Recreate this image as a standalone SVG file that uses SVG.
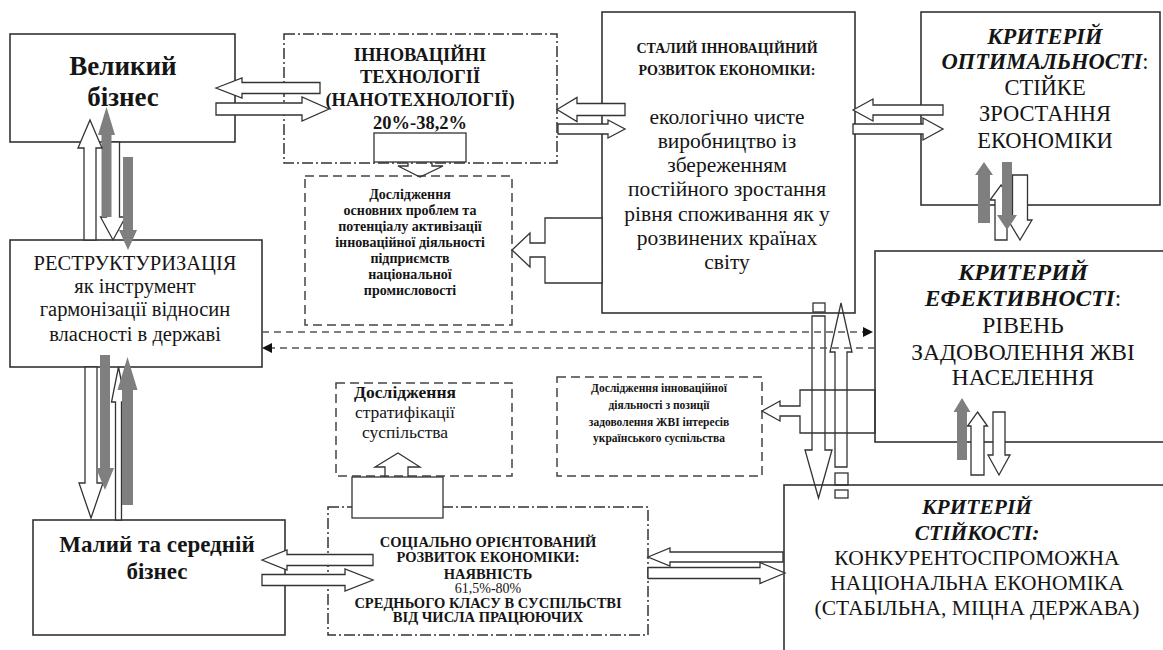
<svg xmlns="http://www.w3.org/2000/svg" width="1163" height="650" viewBox="0 0 1163 650">
<defs>
<style>
.bx{fill:#fff;stroke:#333;stroke-width:1.6}
.dd{fill:none;stroke:#333;stroke-width:1.5;stroke-dasharray:11,3,2,3}
.ds{fill:none;stroke:#444;stroke-width:1.5;stroke-dasharray:9,5}
.wa{fill:#fff;stroke:#333;stroke-width:1.3;stroke-linejoin:miter}
.na{fill:none;stroke:#333;stroke-width:1.3}
.ga{fill:#7f7f7f;stroke:none}
.dl{fill:none;stroke:#555;stroke-width:1.5;stroke-dasharray:7,5}
text{font-family:"Liberation Serif","Times New Roman",serif;fill:#151515;text-anchor:middle}
.b{font-weight:bold}
.bi{font-weight:bold;font-style:italic}
</style>
<marker id="tri" viewBox="0 0 10 10" refX="10" refY="5" markerWidth="13" markerHeight="10" markerUnits="userSpaceOnUse" orient="auto">
<path d="M0,0 L10,5 L0,10 z" fill="#111"/>
</marker>
</defs>

<g id="velykyi">
<rect class="bx" x="10" y="34" width="225" height="108"/>
<text class="b" font-size="27" x="123" y="75">Великий</text>
<text class="b" font-size="27" x="123" y="106">бізнес</text>
</g>

<g id="innov">
<rect class="dd" x="284" y="34" width="273" height="129"/>
<text class="b" font-size="18.5" x="420" y="61">ІННОВАЦІЙНІ</text>
<text class="b" font-size="18.5" x="420" y="83">ТЕХНОЛОГІЇ</text>
<text class="b" font-size="18.5" x="420" y="106">(НАНОТЕХНОЛОГІЇ)</text>
<text class="b" font-size="18.5" x="420" y="129">20%-38,2%</text>
</g>

<g id="doslid1">
<rect class="ds" x="305" y="176" width="207" height="149"/>
<text class="b" font-size="14" x="410" y="199">Дослідження</text>
<text class="b" font-size="14" x="410" y="215">основних проблем та</text>
<text class="b" font-size="14" x="410" y="231">потенціалу активізації</text>
<text class="b" font-size="14" x="410" y="247">інноваційної діяльності</text>
<text class="b" font-size="14" x="410" y="263">підприємств</text>
<text class="b" font-size="14" x="410" y="279">національної</text>
<text class="b" font-size="14" x="410" y="295">промисловості</text>
</g>

<g id="stalyi">
<rect class="bx" x="602" y="12" width="253" height="301"/>
<text class="b" font-size="14" x="727" y="53">СТАЛИЙ ІННОВАЦІЙНИЙ</text>
<text class="b" font-size="14" x="727" y="75">РОЗВИТОК ЕКОНОМІКИ:</text>
<text font-size="21.5" x="727" y="124">екологічно чисте</text>
<text font-size="21.5" x="727" y="148">виробництво із</text>
<text font-size="21.5" x="727" y="172">збереженням</text>
<text font-size="21.5" x="727" y="196">постійного зростання</text>
<text font-size="21.5" x="727" y="221">рівня споживання як у</text>
<text font-size="21.5" x="727" y="245">розвинених країнах</text>
<text font-size="21.5" x="727" y="269">світу</text>
</g>

<g id="optym">
<rect class="bx" x="921" y="12" width="239" height="193"/>
<text class="bi" font-size="22.5" x="1045" y="44">КРИТЕРІЙ</text>
<text font-size="22.5" x="1045" y="69"><tspan class="bi">ОПТИМАЛЬНОСТІ</tspan>:</text>
<text font-size="22.5" x="1045" y="95">СТІЙКЕ</text>
<text font-size="22.5" x="1045" y="121">ЗРОСТАННЯ</text>
<text font-size="22.5" x="1045" y="148">ЕКОНОМІКИ</text>
</g>

<g id="restr">
<rect class="bx" x="10" y="240" width="252" height="127"/>
<text font-size="20.5" x="135" y="270">РЕСТРУКТУРИЗАЦІЯ</text>
<text font-size="20.5" x="135" y="293">як інструмент</text>
<text font-size="20.5" x="135" y="316">гармонізації відносин</text>
<text font-size="20.5" x="135" y="341">власності в державі</text>
</g>

<g id="efekt">
<rect class="bx" x="875" y="251" width="300" height="191"/>
<text class="bi" font-size="23.5" x="1023" y="280">КРИТЕРИЙ</text>
<text font-size="23.5" x="1023" y="306"><tspan class="bi">ЕФЕКТИВНОСТІ</tspan>:</text>
<text font-size="23.5" x="1023" y="333">РІВЕНЬ</text>
<text font-size="23.5" x="1023" y="360">ЗАДОВОЛЕННЯ ЖВІ</text>
<text font-size="23.5" x="1023" y="385">НАСЕЛЕННЯ</text>
</g>

<g id="doslid2">
<rect class="ds" x="336" y="383" width="176" height="93"/>
<text class="b" font-size="17.5" x="405" y="398">Дослідження</text>
<text font-size="17.5" x="405" y="418">стратифікації</text>
<text font-size="17.5" x="405" y="438">суспільства</text>
</g>

<g id="doslid3">
<rect class="ds" x="557" y="377" width="205" height="99"/>
<text class="b" font-size="11.5" x="659" y="392">Дослідження інноваційної</text>
<text class="b" font-size="11.5" x="659" y="409">діяльності з позиції</text>
<text class="b" font-size="11.5" x="659" y="426">задоволення ЖВІ інтересів</text>
<text class="b" font-size="11.5" x="659" y="442">українського суспільства</text>
</g>

<g id="malyi">
<rect class="bx" x="33" y="520" width="252" height="115"/>
<text class="b" font-size="23" x="157" y="552">Малий та середній</text>
<text class="b" font-size="23" x="157" y="579">бізнес</text>
</g>

<g id="social">
<rect class="dd" x="328" y="507" width="320" height="128"/>
<text class="b" font-size="14.5" x="488" y="547">СОЦІАЛЬНО ОРІЄНТОВАНИЙ</text>
<text class="b" font-size="14.5" x="488" y="562">РОЗВИТОК ЕКОНОМІКИ:</text>
<text class="b" font-size="14.5" x="488" y="579">НАЯВНІСТЬ</text>
<text font-size="14" x="488" y="593" fill="#333">61,5%-80%</text>
<text class="b" font-size="14.5" x="488" y="608">СРЕДНЬОГО КЛАСУ В СУСПІЛЬСТВІ</text>
<text class="b" font-size="14.5" x="488" y="622">ВІД ЧИСЛА ПРАЦЮЮЧИХ</text>
</g>

<g id="stiik">
<rect class="bx" x="784" y="485" width="400" height="200"/>
<text class="bi" font-size="21.5" x="977" y="514">КРИТЕРІЙ</text>
<text class="bi" font-size="21.5" x="977" y="540">СТІЙКОСТІ:</text>
<text font-size="21.5" x="977" y="565">КОНКУРЕНТОСПРОМОЖНА</text>
<text font-size="21.5" x="977" y="590">НАЦІОНАЛЬНА ЕКОНОМІКА</text>
<text font-size="21.5" x="977" y="615">(СТАБІЛЬНА, МІЦНА ДЕРЖАВА)</text>
</g>

<g id="connectors">
<polygon class="wa" points="216,88 242,78 242,82.5 320,82.5 320,93.5 242,93.5 242,98"/>
<polygon class="wa" points="216,103 302,103 302,97 329,109 302,121 302,115 216,115"/>
<polygon class="wa" points="557,109.5 577,97.5 577,103.5 625,103.5 625,115.5 577,115.5 577,121.5"/>
<polygon class="wa" points="558,124 608,124 608,120 625,129 608,138 608,134 558,134"/>
<polygon class="wa" points="853,110 873,99 873,105 943,105 943,115 873,115 873,121"/>
<polygon class="wa" points="853,124 923,124 923,118 943,129 923,140 923,134 853,134"/>
<polygon class="wa" points="262,560 287,550 287,554.5 373,554.5 373,565.5 287,565.5 287,570"/>
<polygon class="wa" points="262,574.5 345,574.5 345,569 373,580 345,591 345,585.5 262,585.5"/>
<polygon class="wa" points="648,557 670,548 670,552 783,552 783,562 670,562 670,566"/>
<polygon class="wa" points="648,567.5 760,567.5 760,562.5 785,573 760,583.5 760,578.5 648,578.5"/>

<rect class="wa" x="374" y="133" width="92" height="29"/>
<polyline class="na" points="408,163 408,166 398,166 420,177 443,166 432,166 432,163"/>

<rect class="wa" x="352" y="477" width="91" height="41"/>
<polyline class="na" points="385,477 385,467 375,467 398,453 420,467 408,467 408,477"/>

<polygon class="wa" points="602,218 545,218 545,243 530,243 530,233 512,250 530,267 530,257 545,257 545,283 602,283"/>
<polygon class="na" points="875,390 800,390 800,406 780,406 780,401 762,411 780,421 780,416 800,416 800,433 875,433"/>

<polygon class="wa" points="106.5,142 119.5,142 119.5,217 125.5,217 113,240 100.5,217 106.5,217"/>
<polygon class="ga" points="106.5,107 115,135 111.5,135 111.5,217 101.5,217 101.5,135 98,135"/>
<polygon class="ga" points="123,157 133,157 133,230 137,230 128,250 119,230 123,230"/>
<polygon class="wa" points="90,120 102,148 96,148 96,240 84,240 84,148 78,148"/>

<polygon class="wa" points="85,367 97,367 97,483 103,483 91,518 79,483 85,483"/>
<polygon class="wa" points="118.5,367 125.5,402 121.5,402 121.5,520 115.5,520 115.5,402 111.5,402"/>
<polygon class="ga" points="100,355 110,355 110,468 114,468 105,490 96,468 100,468"/>
<polygon class="ga" points="127.5,357 137.5,390 133,390 133,505 122,505 122,390 117.5,390"/>

<polygon class="wa" points="1001,185 1012,200 1007,200 1007,240 995,240 995,200 990,200"/>
<polygon class="wa" points="1012.5,175 1027.5,175 1027.5,220 1032,220 1020,240 1008,220 1012.5,220"/>
<polygon class="ga" points="984,162 993,175 990,175 990,223 978,223 978,175 975,175"/>
<polygon class="ga" points="1002,162 1012,162 1012,215 1017,215 1007,230 997,215 1002,215"/>

<polygon class="wa" points="977.5,412 987.5,426 984,426 984,475 971,475 971,426 967.5,426"/>
<polygon class="wa" points="993,412 1005,412 1005,455 1010,455 999,475 988,455 993,455"/>
<polygon class="ga" points="962,398 970.5,412 967,412 967,460 957,460 957,412 953.5,412"/>

<rect class="na" x="813" y="303" width="12" height="9"/>
<polygon class="na" points="812,316 825,316 825,450 832,450 818.5,498 805,450 812,450"/>
<polygon class="na" points="841,303 852,352 847,352 847,467 835,467 835,352 830,352"/>
<rect class="na" x="835" y="473" width="13" height="12"/>
<rect class="na" x="835" y="490" width="13" height="8"/>

<line class="dl" x1="262" y1="332" x2="873" y2="332" marker-end="url(#tri)"/>
<line class="dl" x1="875" y1="348" x2="262" y2="348" marker-end="url(#tri)"/>
</g>
</svg>
